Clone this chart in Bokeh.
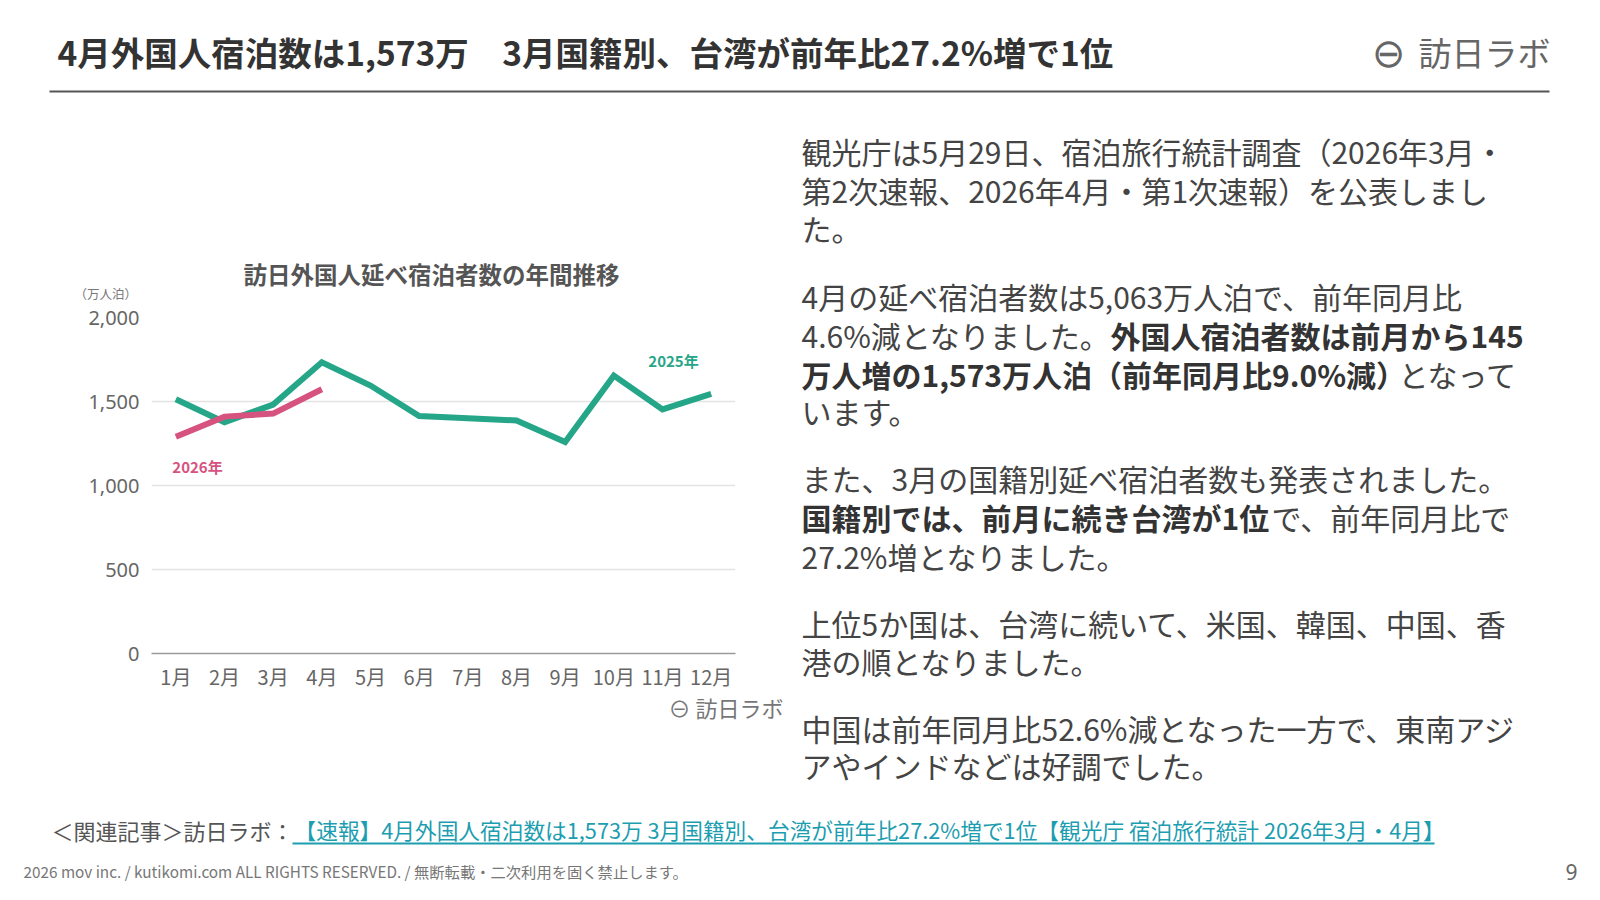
from bokeh.plotting import figure
from bokeh.layouts import column, row
from bokeh.models import Range1d, FactorRange, FixedTicker, NumeralTickFormatter, Label, Title
from bokeh.core.properties import value
from bokeh.embed import file_html
from bokeh.resources import INLINE

# ---------------- data ----------------
months = ["1月", "2月", "3月", "4月", "5月", "6月", "7月", "8月", "9月", "10月", "11月", "12月"]
nights_2025 = [1513, 1377, 1482, 1733, 1595, 1413, 1401, 1387, 1259, 1654, 1453, 1545]
months_2026 = ["1月", "2月", "3月", "4月"]
nights_2026 = [1290, 1410, 1428, 1573]
y_ticks = [0, 500, 1000, 1500, 2000]

JP = "Noto Sans CJK JP"
GREEN = "#26a688"
PINK = "#d6527f"


def blank(w, h):
    f = figure(width=w, height=h, output_backend="svg", toolbar_location=None,
               x_range=Range1d(0, w), y_range=Range1d(h, 0),
               x_axis_type=None, y_axis_type=None, min_border=0)
    f.frame_align = False
    f.outline_line_color = None
    f.grid.visible = False
    f.background_fill_color = "white"
    f.border_fill_color = "white"
    return f


# ---------------- header ----------------
head = blank(1596, 118)
head.text(x=[57], y=[51], text=["4月外国人宿泊数は1,573万　3月国籍別、台湾が前年比27.2%増で1位"],
          text_font=value(JP), text_font_style="bold", text_font_size="33.5px",
          text_color="#333333", text_baseline="middle")
head.text(x=[1388], y=[52], text=["⊖"], text_font=value("DejaVu Sans"), text_font_size="40px",
          text_color="#666666", text_baseline="middle", text_align="center")
head.text(x=[1418], y=[51], text=["訪日ラボ"], text_font=value(JP), text_font_size="33px",
          text_color="#666666", text_baseline="middle")
head.segment(x0=[49], y0=[91], x1=[1549], y1=[91], line_color="#555555", line_width=2)

# ---------------- chart ----------------
p = figure(width=798, height=682, output_backend="svg", toolbar_location=None,
           x_range=FactorRange(factors=months, range_padding=0), y_range=Range1d(0, 2000),
           min_border_left=151, min_border_right=63, min_border_top=199, min_border_bottom=147)
p.frame_align = False
p.outline_line_color = None
p.background_fill_color = "white"
p.border_fill_color = "white"
p.xgrid.visible = False
p.ygrid.grid_line_color = "#e3e3e3"
p.ygrid.grid_line_width = 1.5
p.yaxis.ticker = FixedTicker(ticks=y_ticks)
p.yaxis.formatter = NumeralTickFormatter(format="0,0")
p.yaxis.axis_line_color = None
p.yaxis.major_tick_line_color = None
p.yaxis.minor_tick_line_color = None
p.yaxis.major_label_text_font = "Noto Sans"
p.yaxis.major_label_text_font_size = "20px"
p.yaxis.major_label_text_color = "#666666"
p.yaxis.major_label_standoff = 6
p.xaxis.axis_line_color = "#9a9a9a"
p.xaxis.axis_line_width = 1.5
p.xaxis.major_tick_line_color = None
p.xaxis.minor_tick_line_color = None
p.xaxis.major_label_text_font = JP
p.xaxis.major_label_text_font_size = "20px"
p.xaxis.major_label_text_color = "#666666"
p.xaxis.major_label_standoff = 2

p.title.text = "訪日外国人延べ宿泊者数の年間推移"
p.title.align = "left"
p.title.offset = 92
p.title.standoff = -47
p.title.text_font = JP
p.title.text_font_style = "bold"
p.title.text_font_size = "23.5px"
p.title.text_color = "#555555"
p.add_layout(Title(text="（万人泊）", align="left", offset=-77, standoff=29,
                   text_font=JP, text_font_style="normal", text_font_size="12.5px",
                   text_color="#777777"), "above")
p.add_layout(Title(text="⊖ 訪日ラボ", align="left", offset=517, standoff=-10,
                   text_font=JP, text_font_style="normal", text_font_size="22px",
                   text_color="#777777"), "below")

p.line(months, nights_2025, line_color=GREEN, line_width=6, line_join="miter")
p.line(months_2026, nights_2026, line_color=PINK, line_width=6, line_join="miter")

p.add_layout(Label(x=522, y=293, x_units="screen", y_units="screen", text="2025年",
                   text_font=JP, text_font_style="bold", text_font_size="15px", text_color=GREEN,
                   text_align="center", text_baseline="middle"))
p.add_layout(Label(x=46, y=187, x_units="screen", y_units="screen", text="2026年",
                   text_font=JP, text_font_style="bold", text_font_size="15px", text_color=PINK,
                   text_align="center", text_baseline="middle"))

# ---------------- body text ----------------
body = blank(798, 682)
reg_x = [3, 3, 3, 3, 3, 600, 3, 3, 473, 3, 3, 3, 3, 3]
reg_y = [32, 71, 109, 177, 216, 255, 292, 359, 398, 437, 504, 542, 609, 646]
reg_t = ["観光庁は5月29日、宿泊旅行統計調査（2026年3月・",
         "第2次速報、2026年4月・第1次速報）を公表しまし",
         "た。",
         "4月の延べ宿泊者数は5,063万人泊で、前年同月比",
         "4.6%減となりました。",
         "となって",
         "います。",
         "また、3月の国籍別延べ宿泊者数も発表されました。",
         "で、前年同月比で",
         "27.2%増となりました。",
         "上位5か国は、台湾に続いて、米国、韓国、中国、香",
         "港の順となりました。",
         "中国は前年同月比52.6%減となった一方で、東南アジ",
         "アやインドなどは好調でした。"]
bold_x = [312, 3, 3]
bold_y = [216, 255, 398]
bold_t = ["外国人宿泊者数は前月から145",
          "万人増の1,573万人泊（前年同月比9.0%減）",
          "国籍別では、前月に続き台湾が1位"]
body.text(x=reg_x, y=reg_y, text=reg_t, text_font=value(JP), text_font_size="30px",
          text_color="#444444", text_baseline="middle")
body.text(x=bold_x, y=bold_y, text=bold_t, text_font=value(JP), text_font_style="bold",
          text_font_size="30px", text_color="#333333", text_baseline="middle")

# ---------------- footer ----------------
foot = blank(1596, 96)
foot.text(x=[51], y=[29], text=["＜関連記事＞訪日ラボ："], text_font=value(JP), text_font_size="22px",
          text_color="#555555", text_baseline="middle")
foot.text(x=[294], y=[29], text=["【速報】4月外国人宿泊数は1,573万 3月国籍別、台湾が前年比27.2%増で1位【観光庁 宿泊旅行統計 2026年3月・4月】"],
          text_font=value(JP), text_font_size="21.7px", text_color="#1c9db0", text_baseline="middle")
foot.segment(x0=[292], y0=[43], x1=[1434], y1=[43], line_color="#1c9db0", line_width=2)
foot.text(x=[23], y=[70], text=["2026 mov inc. / kutikomi.com ALL RIGHTS RESERVED. / 無断転載・二次利用を固く禁止します。"],
          text_font=value(JP), text_font_size="15.3px", text_color="#777777", text_baseline="middle")
foot.text(x=[1571], y=[71], text=["9"], text_font=value("Noto Sans"), text_font_size="21px",
          text_color="#666666", text_baseline="middle", text_align="center")

layout = column(head, row(p, body), foot)
open("out.html", "w").write(file_html(layout, INLINE, title="訪日ラボ"))
